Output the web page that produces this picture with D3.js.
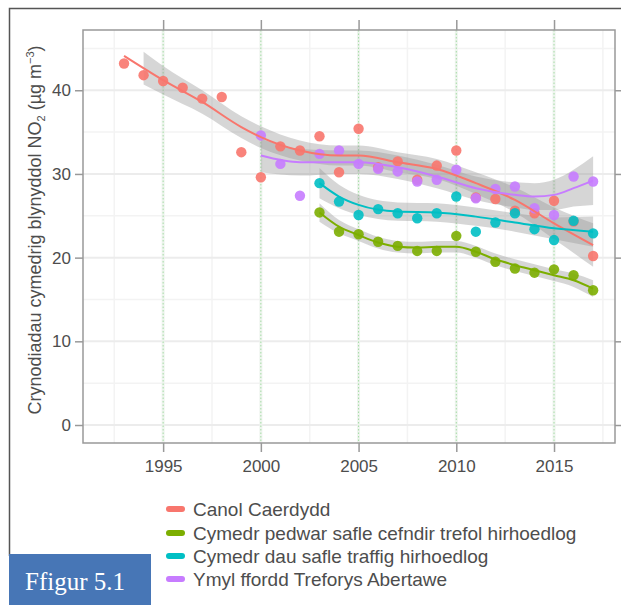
<!DOCTYPE html>
<html><head><meta charset="utf-8">
<script src="https://cdn.jsdelivr.net/npm/d3@7"></script>
<style>
html,body{margin:0;padding:0;background:#fff;}
svg{display:block;}
text{font-family:"Liberation Sans",Arial,Helvetica,sans-serif;}
</style></head>
<body>
<svg id="chart" width="621" height="605"></svg>
<script>
// ---- Data ----
const seriesNames = ["Canol Caerdydd","Cymedr pedwar safle cefndir trefol hirhoedlog","Cymedr dau safle traffig hirhoedlog","Ymyl ffordd Treforys Abertawe"];
const seriesColors = ["#F8766D","#7CAE00","#00BFC4","#C77CFF"];

const yearsRed = [1993,1994,1995,1996,1997,1998,1999,2000,2001,2002,2003,2004,2005,2006,2007,2008,2009,2010,2011,2012,2013,2014,2015,2016,2017];
const valuesRed = [43.2,41.8,41.1,40.3,39.0,39.2,32.6,29.6,33.3,32.8,34.5,30.2,35.4,30.8,31.5,29.3,31.0,32.8,27.2,27.0,25.6,25.3,26.8,24.3,20.2];

const yearsGreen = [2003,2004,2005,2006,2007,2008,2009,2010,2011,2012,2013,2014,2015,2016,2017];
const valuesGreen = [25.4,23.1,22.8,21.9,21.4,20.8,20.8,22.6,20.7,19.5,18.7,18.2,18.6,17.9,16.1];

const yearsCyan = [2003,2004,2005,2006,2007,2008,2009,2010,2011,2012,2013,2014,2015,2016,2017];
const valuesCyan = [28.9,26.7,25.1,25.8,25.3,24.7,25.3,27.3,23.1,24.2,25.3,23.4,22.1,24.4,22.9];

const yearsPurple = [2000,2001,2002,2003,2004,2005,2006,2007,2008,2009,2010,2011,2012,2013,2014,2015,2016,2017];
const valuesPurple = [34.6,31.2,27.4,32.4,32.8,31.2,30.6,30.3,29.1,29.3,30.5,27.1,28.2,28.5,25.9,25.1,29.7,29.1];

// smoothed trend and half-width of grey confidence band
const fitYearsRed = [1993,1995,1997,1999,2000,2002,2004,2005,2007,2009,2011,2013,2015,2017];
const fitRed = [44.1,41.2,38.6,35.6,34.4,32.8,32.2,32.2,31.4,30.6,28.9,26.9,24.1,21.5];
const bandRed = [2.2,1.7,1.4,1.3,1.3,1.2,1.2,1.2,1.2,1.2,1.3,1.5,1.9,2.6];

const fitYearsGreen = [2003,2004,2005,2006,2007,2008,2009,2010,2011,2012,2013,2014,2015,2016,2017];
const fitGreen = [25.4,23.7,22.7,21.8,21.3,21.2,21.3,21.3,20.7,19.8,19.1,18.5,17.9,17.3,16.3];
const bandGreen = [1.1,0.8,0.7,0.7,0.7,0.7,0.7,0.7,0.7,0.7,0.7,0.7,0.7,0.8,1.0];

const fitYearsCyan = [2003,2004,2005,2007,2009,2011,2013,2015,2017];
const fitCyan = [28.9,27.3,26.3,25.5,25.4,24.9,24.2,23.5,23.1];
const bandCyan = [1.8,1.4,1.2,1.1,1.1,1.1,1.1,1.3,1.8];

const fitYearsPurple = [2000,2002,2004,2005,2007,2009,2011,2013,2014,2015,2016,2017];
const fitPurple = [32.2,31.4,31.4,31.4,30.8,29.7,28.3,27.5,27.3,27.5,28.3,29.2];
const bandPurple = [2.0,1.6,1.4,1.4,1.4,1.4,1.4,1.5,1.6,1.8,2.2,2.9];

const xTicks = [1995,2000,2005,2010,2015];
const yTicks = [0,10,20,30,40];
const xMinor = [1992.5,1997.5,2002.5,2007.5,2012.5,2017.5];
const yMinor = [5,15,25,35,45];

// ---- Layout ----
const svg = d3.select("#chart");
const P = {left:83, right:615, top:30, bottom:443};
const x = d3.scaleLinear().domain([1990.9, 2018.12]).range([P.left, P.right]);
const y = d3.scaleLinear().domain([-2.15, 47.2]).range([P.bottom, P.top]);

// outer frame
svg.append("path").attr("d","M9.5,556 L9.5,8.5 L621,8.5").attr("fill","none").attr("stroke","#555").attr("stroke-width",1.5);

// panel background
svg.append("rect").attr("x",P.left).attr("y",P.top).attr("width",P.right-P.left).attr("height",P.bottom-P.top).attr("fill","#fff");

const grid = svg.append("g");
grid.selectAll(".vmin").data(xMinor.filter(d=>x(d)>P.left&&x(d)<P.right)).join("line")
  .attr("x1",d=>x(d)).attr("x2",d=>x(d)).attr("y1",P.top).attr("y2",P.bottom)
  .attr("stroke","#f3f3f3").attr("stroke-width",1.5);
grid.selectAll(".hmin").data(yMinor.filter(d=>y(d)>P.top&&y(d)<P.bottom)).join("line")
  .attr("y1",d=>y(d)).attr("y2",d=>y(d)).attr("x1",P.left).attr("x2",P.right)
  .attr("stroke","#f3f3f3").attr("stroke-width",1.5);
grid.selectAll(".hmaj").data(yTicks).join("line")
  .attr("y1",d=>y(d)).attr("y2",d=>y(d)).attr("x1",P.left).attr("x2",P.right)
  .attr("stroke","#ececec").attr("stroke-width",2);
grid.selectAll(".vmaj").data(xTicks).join("line")
  .attr("x1",d=>x(d)).attr("x2",d=>x(d)).attr("y1",P.top).attr("y2",P.bottom)
  .attr("stroke","#eef4ee").attr("stroke-width",3);
grid.selectAll(".vgreen").data(xTicks).join("line")
  .attr("x1",d=>x(d)).attr("x2",d=>x(d)).attr("y1",P.top).attr("y2",P.bottom)
  .attr("stroke","#a6dca6").attr("stroke-width",1).attr("stroke-dasharray","1.5,2");

// bands, lines, points
const fits = [
  {yrs:fitYearsRed, v:fitRed, b:bandRed},
  {yrs:fitYearsGreen, v:fitGreen, b:bandGreen},
  {yrs:fitYearsCyan, v:fitCyan, b:bandCyan},
  {yrs:fitYearsPurple, v:fitPurple, b:bandPurple}
];
const pts = [
  {yrs:yearsRed, v:valuesRed},
  {yrs:yearsGreen, v:valuesGreen},
  {yrs:yearsCyan, v:valuesCyan},
  {yrs:yearsPurple, v:valuesPurple}
];

const area = d3.area().x(d=>x(d.yr)).y0(d=>y(d.v-d.b)).y1(d=>y(d.v+d.b)).curve(d3.curveMonotoneX);
const line = d3.line().x(d=>x(d.yr)).y(d=>y(d.v)).curve(d3.curveMonotoneX);

const plot = svg.append("g");
fits.forEach((f,i)=>{
  const data = f.yrs.map((yr,j)=>({yr, v:f.v[j], b:f.b[j]}));
  let bandData = data;
  if(i===0){
    // red band begins at 1994 in the reference
    const first = data[0], second = data[1];
    const t = (1994-first.yr)/(second.yr-first.yr);
    bandData = [{yr:1994, v:first.v+(second.v-first.v)*t, b:first.b+(second.b-first.b)*t}].concat(data.slice(1));
  }
  plot.append("path").datum(bandData).attr("d",area).attr("fill","#999").attr("fill-opacity",0.4);
});
pts.forEach((p,i)=>{
  plot.append("g").selectAll("circle").data(p.yrs.map((yr,j)=>({yr,v:p.v[j]}))).join("circle")
    .attr("cx",d=>x(d.yr)).attr("cy",d=>y(d.v)).attr("r",5.2)
    .attr("fill",seriesColors[i]).attr("fill-opacity",0.9);
});
fits.forEach((f,i)=>{
  const data = f.yrs.map((yr,j)=>({yr, v:f.v[j]}));
  plot.append("path").datum(data).attr("d",line).attr("fill","none")
    .attr("stroke",seriesColors[i]).attr("stroke-width",2);
});

// panel border
svg.append("rect").attr("x",P.left).attr("y",P.top).attr("width",P.right-P.left).attr("height",P.bottom-P.top)
  .attr("fill","none").attr("stroke","#999").attr("stroke-width",1.5);

// axes
const axisStyle = g=>{
  g.select(".domain").remove();
  g.selectAll(".tick line").attr("stroke","#999").attr("stroke-width",1.5);
  g.selectAll(".tick text").attr("fill","#4d4d4d").style("font-size","17px");
};
svg.append("g").attr("transform",`translate(0,${P.bottom})`)
  .call(d3.axisBottom(x).tickValues(xTicks).tickFormat(d3.format("d")).tickSize(9).tickPadding(8)).call(axisStyle);
svg.append("g").attr("transform",`translate(0,${P.top})`)
  .call(d3.axisTop(x).tickValues(xTicks).tickFormat("").tickSize(10)).call(axisStyle);
svg.append("g").attr("transform",`translate(${P.left},0)`)
  .call(d3.axisLeft(y).tickValues(yTicks).tickSize(8).tickPadding(4)).call(axisStyle);
svg.append("g").attr("transform",`translate(${P.right},0)`)
  .call(d3.axisRight(y).tickValues(yTicks).tickFormat("").tickSize(8)).call(axisStyle);

// y-axis title
const yt = svg.append("text").attr("transform",`translate(41,230) rotate(-90)`)
  .attr("text-anchor","middle").attr("fill","#4d4d4d").style("font-size","18px");
yt.append("tspan").text("Crynodiadau cymedrig blynyddol NO");
yt.append("tspan").text("2").style("font-size","11px").attr("dy",4);
yt.append("tspan").text("  (µg m").style("font-size","18px").attr("dy",-4);
yt.append("tspan").text("−3").style("font-size","11px").attr("dy",-7);
yt.append("tspan").text(")").style("font-size","18px").attr("dy",7);

// legend
const leg = svg.append("g");
const legY = [509,533,556,579];
seriesNames.forEach((n,i)=>{
  leg.append("line").attr("x1",169).attr("x2",182).attr("y1",legY[i]).attr("y2",legY[i])
    .attr("stroke",seriesColors[i]).attr("stroke-width",6).attr("stroke-linecap","round");
  leg.append("text").attr("x",193).attr("y",legY[i]+6.5).attr("fill","#4d4d4d")
    .style("font-size","19px").text(n);
});

// figure label
svg.append("rect").attr("x",9).attr("y",554).attr("width",142).attr("height",51).attr("fill","#4776b6");
svg.append("text").attr("x",25).attr("y",590).attr("fill","#fff")
  .style("font-family","'Liberation Serif','DejaVu Serif',serif").style("font-size","25px").text("Ffigur 5.1");
</script>
</body></html>
